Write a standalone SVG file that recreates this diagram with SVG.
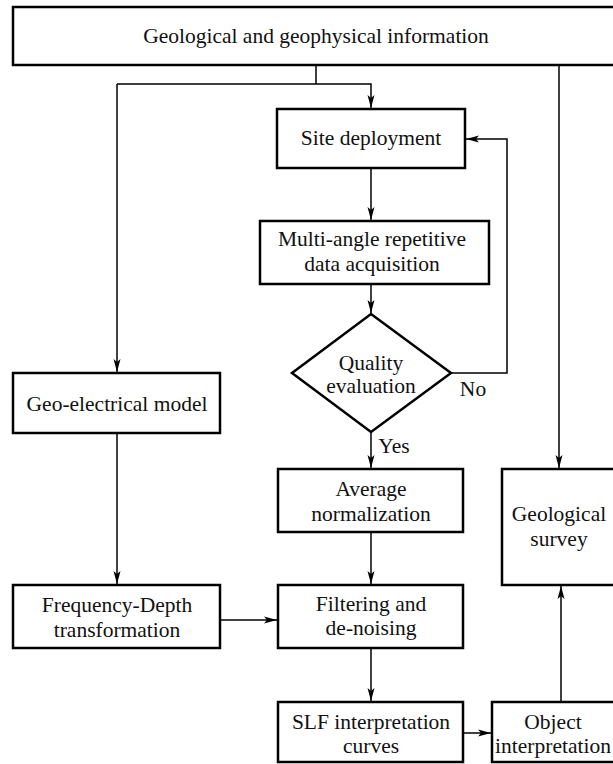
<svg xmlns="http://www.w3.org/2000/svg" width="613" height="764" viewBox="0 0 613 764">
<defs>
<marker id="arr" markerUnits="userSpaceOnUse" markerWidth="14" markerHeight="8" refX="13" refY="4" orient="auto">
<path d="M0,0.5 L13,4 L0,7.5 L3,4 z" fill="#000"/>
</marker>
<style>
.box{fill:#fff;stroke:#000;stroke-width:2.5}
.t{font-family:'Liberation Serif','Times New Roman','DejaVu Serif',serif;font-size:21.5px;fill:#111;text-anchor:middle}
.c{fill:none;stroke:#000;stroke-width:1.5}
</style>
</defs>
<rect width="613" height="764" fill="#fff"/>
<g id="connectors">
<path class="c" d="M316,65 V84"/>
<path class="c" d="M117,84 H371 V108" marker-end="url(#arr)"/>
<path class="c" d="M117,84 V372" marker-end="url(#arr)"/>
<path class="c" d="M559,65 V468" marker-end="url(#arr)"/>
<path class="c" d="M371,168 V220" marker-end="url(#arr)"/>
<path class="c" d="M371,284 V313" marker-end="url(#arr)"/>
<path class="c" d="M451,373 H507 V139 H466" marker-end="url(#arr)"/>
<path class="c" d="M371,432 V468" marker-end="url(#arr)"/>
<path class="c" d="M371,532 V584" marker-end="url(#arr)"/>
<path class="c" d="M117,433 V584" marker-end="url(#arr)"/>
<path class="c" d="M220,620 H277" marker-end="url(#arr)"/>
<path class="c" d="M371,648 V701" marker-end="url(#arr)"/>
<path class="c" d="M463,733 H491" marker-end="url(#arr)"/>
<path class="c" d="M561,702 V586" marker-end="url(#arr)"/>
</g>
<g id="geo-info">
<rect class="box" x="13" y="7" width="620" height="58"/>
<text class="t" x="316" y="43">Geological and geophysical information</text>
</g>
<g id="site-deployment">
<rect class="box" x="277" y="109" width="188" height="59"/>
<text class="t" x="371" y="145">Site deployment</text>
</g>
<g id="multi-angle">
<rect class="box" x="260" y="221" width="229" height="63"/>
<text class="t" x="372" y="246">Multi-angle repetitive</text>
<text class="t" x="372" y="271">data acquisition</text>
</g>
<g id="quality">
<path class="box" d="M371,314 L451,373 L371,432 L292,373 Z"/>
<text class="t" x="371" y="370">Quality</text>
<text class="t" x="371" y="393">evaluation</text>
</g>
<text class="t" x="473" y="396">No</text>
<text class="t" x="394" y="453">Yes</text>
<g id="geo-electrical">
<rect class="box" x="13" y="373" width="207" height="60"/>
<text class="t" x="117" y="411">Geo-electrical model</text>
</g>
<g id="average">
<rect class="box" x="278" y="469" width="185" height="63"/>
<text class="t" x="371" y="496">Average</text>
<text class="t" x="371" y="521">normalization</text>
</g>
<g id="geological-survey">
<rect class="box" x="502" y="469" width="130" height="116"/>
<text class="t" x="559" y="521">Geological</text>
<text class="t" x="559" y="546">survey</text>
</g>
<g id="freq-depth">
<rect class="box" x="13" y="585" width="207" height="63"/>
<text class="t" x="117" y="612">Frequency-Depth</text>
<text class="t" x="117" y="637">transformation</text>
</g>
<g id="filtering">
<rect class="box" x="278" y="585" width="185" height="63"/>
<text class="t" x="371" y="611">Filtering and</text>
<text class="t" x="371" y="635">de-noising</text>
</g>
<g id="slf">
<rect class="box" x="278" y="702" width="185" height="60"/>
<text class="t" x="371" y="729">SLF interpretation</text>
<text class="t" x="371" y="753">curves</text>
</g>
<g id="object">
<rect class="box" x="492" y="702" width="140" height="60"/>
<text class="t" x="553" y="729">Object</text>
<text class="t" x="553" y="753">interpretation</text>
</g>
</svg>
